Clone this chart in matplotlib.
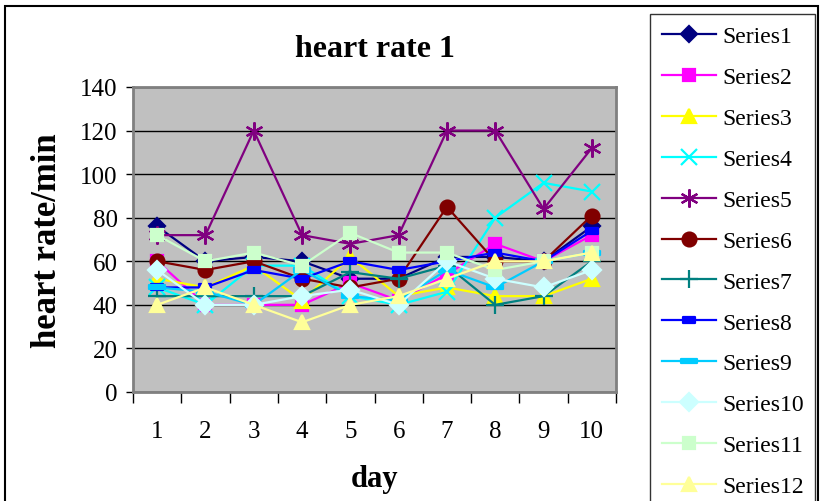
import matplotlib
matplotlib.use("Agg")
import matplotlib.pyplot as plt
from matplotlib.path import Path
from matplotlib.patches import Rectangle
import numpy as np

days = [1, 2, 3, 4, 5, 6, 7, 8, 9, 10]
series_names = [f"Series{i}" for i in range(1, 13)]

s1 = [76, 60, 62, 60, 52, 52, 62, 62, 60, 76]
s2 = [60, 40, 40, 40, 50, 42, 54, 68, 60, 72]
s3 = [52, 48, 58, 42, 62, 44, 48, 44, 44, 52]
s4 = [48, 40, 58, 58, 44, 40, 46, 80, 96, 92]
s5 = [72, 72, 120, 72, 68, 72, 120, 120, 84, 112]
s6 = [60, 56, 60, 52, 48, 52, 85, 60, 60, 81]
s7 = [44, 44, 44, 44, 55, 52, 58, 40, 44, 60]
s8 = [48, 48, 56, 52, 60, 56, 60, 64, 60, 74]
s9 = [48, 46, 40, 56, 44, 42, 56, 48, 60, 64]
s10 = [56, 40, 40, 44, 47, 40, 60, 52, 48, 56]
s11 = [72, 60, 64, 58, 73, 64, 64, 56, 60, 64]
s12 = [40, 48, 40, 32, 40, 44, 52, 60, 60, 64]
values = [s1, s2, s3, s4, s5, s6, s7, s8, s9, s10, s11, s12]

colors = ["#000080", "#FF00FF", "#FFFF00", "#00FFFF", "#800080", "#800000",
          "#008080", "#0000FF", "#00CCFF", "#CCFFFF", "#CCFFCC", "#FFFF99"]

short_dash = Path([(-0.6, -0.3), (0.6, -0.3), (0.6, 0.3), (-0.6, 0.3), (-0.6, -0.3)],
                  [Path.MOVETO, Path.LINETO, Path.LINETO, Path.LINETO, Path.CLOSEPOLY])
long_dash = Path([(-1, -0.3), (1, -0.3), (1, 0.3), (-1, 0.3), (-1, -0.3)],
                 [Path.MOVETO, Path.LINETO, Path.LINETO, Path.LINETO, Path.CLOSEPOLY])

markers = ["D", "s", "^", "x", (6, 2, 0), "o", "+", short_dash, long_dash, "D", "s", "^"]
msizes = [8, 9, 10, 11, 13, 10, 13, 9, 11, 9, 9, 10]

serif = ["Liberation Serif", "DejaVu Serif"]

fig = plt.figure(figsize=(8.21, 5.02), dpi=100)
fig.patch.set_facecolor("white")

ax = fig.add_axes([133 / 821, 109 / 502, 483 / 821, 305 / 502])
ax.set_facecolor("#C0C0C0")

for name, vals, c, m, ms in zip(series_names, values, colors, markers, msizes):
    ax.plot(days, vals, color=c, marker=m, markersize=ms, linewidth=1.6,
            markerfacecolor=c, markeredgecolor=c, markeredgewidth=1.6,
            label=name, clip_on=False, zorder=3)

ax.set_xlim(0.5, 10.5)
ax.set_ylim(0, 140)
ax.set_yticks(np.arange(0, 141, 20))
ax.set_xticks(days)
ax.set_xticks(np.arange(0.5, 10.6, 1), minor=True)
ax.tick_params(axis="x", which="major", length=0, pad=20)
ax.tick_params(axis="x", which="minor", length=8, width=1, color="black")
ax.tick_params(axis="y", length=5, width=1, color="black", pad=6)
for lab in ax.get_xticklabels() + ax.get_yticklabels():
    lab.set_fontfamily(serif)
    lab.set_fontsize(18)

ax.yaxis.grid(True, color="black", linewidth=1)
ax.set_axisbelow(True)
for sp in ax.spines.values():
    sp.set_color("#808080")
    sp.set_linewidth(2)

ax.set_title("heart rate 1", fontfamily=serif, fontsize=23, fontweight="bold", pad=22)
ax.set_xlabel("day", fontfamily=serif, fontsize=22, fontweight="bold", labelpad=16)
ax.set_ylabel("heart rate/min", fontfamily=serif, fontsize=25, fontweight="bold", labelpad=12)

leg = fig.legend(loc="upper left", bbox_to_anchor=(650 / 821, 1 - 15 / 502),
                 prop={"family": serif, "size": 17}, frameon=True, fancybox=False,
                 edgecolor="black", handlelength=2.3, handletextpad=0.25,
                 labelspacing=0.82, borderpad=0.5, borderaxespad=0)
leg.get_frame().set_linewidth(1)

fig.patches.append(Rectangle((5 / 821, -0.05), 813 / 821, 1.05 - 7 / 502,
                             transform=fig.transFigure, fill=False,
                             edgecolor="black", linewidth=1.5))

fig.savefig("out.png", dpi=100)
